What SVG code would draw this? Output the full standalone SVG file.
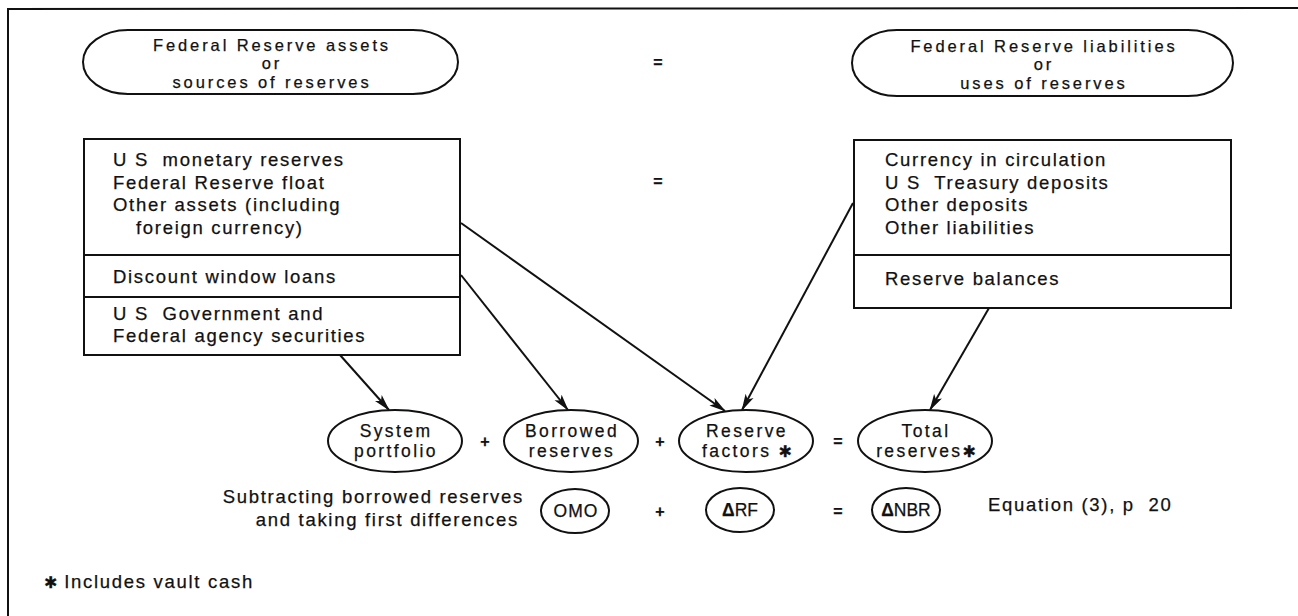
<svg xmlns="http://www.w3.org/2000/svg" width="1298" height="616" viewBox="0 0 1298 616">
<style>
text{font-family:"Liberation Sans",Arial,sans-serif;font-size:18.5px;letter-spacing:1.7px;fill:#111;stroke:#111;stroke-width:0.25}
.cap{font-size:16.5px;letter-spacing:2.9px}
.el{font-size:17.5px;letter-spacing:2.4px}
.c{text-anchor:middle}
.shape{fill:none;stroke:#111;stroke-width:2}
.conn{fill:none;stroke:#111;stroke-width:2}
.op{font-size:16px;font-weight:bold;letter-spacing:0}
.ast{font-family:"DejaVu Sans",sans-serif;font-size:16px;letter-spacing:0;font-weight:bold}
.d{font-weight:bold;letter-spacing:0}
</style>
<defs>
<marker id="ah" markerUnits="userSpaceOnUse" markerWidth="17" markerHeight="10" refX="16" refY="5" orient="auto">
<path d="M0,0.5 L17,5 L0,9.5 L4,5 Z" fill="#111"/>
</marker>
</defs>
<rect width="1298" height="616" fill="#fff"/>
<g id="frame">
<path class="shape" d="M8,616 L8,9 L1298,8"/>
</g>
<g id="assets-header">
<rect class="shape" x="83" y="30" width="375" height="64" rx="45" ry="32"/>
<text class="c cap" x="272" y="50.5">Federal Reserve assets</text>
<text class="c cap" x="272" y="69">or</text>
<text class="c cap" x="272" y="87.5">sources of reserves</text>
</g>
<g id="liabilities-header">
<rect class="shape" x="852" y="30" width="381" height="66" rx="45" ry="33"/>
<text class="c cap" x="1044" y="51.5">Federal Reserve liabilities</text>
<text class="c cap" x="1044" y="70">or</text>
<text class="c cap" x="1044" y="88.5">uses of reserves</text>
</g>
<g id="eq-top">
<text class="c op" x="658" y="68">=</text>
<text class="c op" x="658" y="187">=</text>
</g>
<g id="assets-box">
<rect class="shape" x="84" y="139" width="376" height="216"/>
<line class="shape" x1="84" y1="255" x2="460" y2="255"/>
<line class="shape" x1="84" y1="297" x2="460" y2="297"/>
<text x="113" y="166">U S&#160; monetary reserves</text>
<text x="113" y="188.5">Federal Reserve float</text>
<text x="113" y="211">Other assets (including</text>
<text x="136" y="233.5">foreign currency)</text>
<text x="113" y="283">Discount window loans</text>
<text x="113" y="320">U S&#160; Government and</text>
<text x="113" y="342">Federal agency securities</text>
</g>
<g id="liabilities-box">
<rect class="shape" x="854" y="140" width="377" height="168"/>
<line class="shape" x1="854" y1="255" x2="1231" y2="255"/>
<text x="885" y="166">Currency in circulation</text>
<text x="885" y="188.5">U S&#160; Treasury deposits</text>
<text x="885" y="211">Other deposits</text>
<text x="885" y="233.5">Other liabilities</text>
<text x="885" y="285">Reserve balances</text>
</g>
<g id="connectors">
<line class="conn" x1="340" y1="355" x2="389" y2="410" marker-end="url(#ah)"/>
<line class="conn" x1="461" y1="275" x2="568" y2="410" marker-end="url(#ah)"/>
<line class="conn" x1="461" y1="223" x2="725" y2="411" marker-end="url(#ah)"/>
<line class="conn" x1="853" y1="203" x2="742" y2="410" marker-end="url(#ah)"/>
<line class="conn" x1="989" y1="308" x2="930" y2="410" marker-end="url(#ah)"/>
</g>
<g id="system-portfolio">
<ellipse class="shape" cx="395" cy="441" rx="67" ry="31"/>
<text class="c el" x="396" y="437">System</text>
<text class="c el" x="396" y="457">portfolio</text>
</g>
<text class="c op" x="485" y="447">+</text>
<g id="borrowed-reserves">
<ellipse class="shape" cx="571" cy="441" rx="67" ry="31"/>
<text class="c el" x="572" y="437">Borrowed</text>
<text class="c el" x="572" y="457">reserves</text>
</g>
<text class="c op" x="660" y="447">+</text>
<g id="reserve-factors">
<ellipse class="shape" cx="746" cy="441" rx="67" ry="31"/>
<text class="c el" x="747" y="437">Reserve</text>
<text class="c el" x="747" y="457">factors <tspan class="ast">✱</tspan></text>
</g>
<text class="c op" x="838" y="447">=</text>
<g id="total-reserves">
<ellipse class="shape" cx="925" cy="441" rx="67" ry="31"/>
<text class="c el" x="926" y="437">Total</text>
<text class="c el" x="926" y="457">reserves<tspan class="ast">✱</tspan></text>
</g>
<g id="row2-label">
<text x="524" y="503" text-anchor="end">Subtracting borrowed reserves</text>
<text x="519" y="526" text-anchor="end">and taking first differences</text>
</g>
<g id="omo">
<ellipse class="shape" cx="575" cy="511" rx="34" ry="22"/>
<text class="c el" x="576" y="517" style="letter-spacing:1px">OMO</text>
</g>
<text class="c op" x="660" y="517">+</text>
<g id="delta-rf">
<ellipse class="shape" cx="740" cy="510" rx="34" ry="22"/>
<text class="c el" x="740" y="516" style="letter-spacing:0"><tspan class="d">Δ</tspan>RF</text>
</g>
<text class="c op" x="838" y="517">=</text>
<g id="delta-nbr">
<ellipse class="shape" cx="906" cy="510" rx="34" ry="22"/>
<text class="c el" x="906" y="516" style="letter-spacing:0"><tspan class="d">Δ</tspan>NBR</text>
</g>
<text x="988" y="511">Equation (3), p&#160; 20</text>
<g id="footnote">
<text x="44" y="588"><tspan class="ast" font-size="17">✱</tspan> Includes vault cash</text>
</g>
</svg>
